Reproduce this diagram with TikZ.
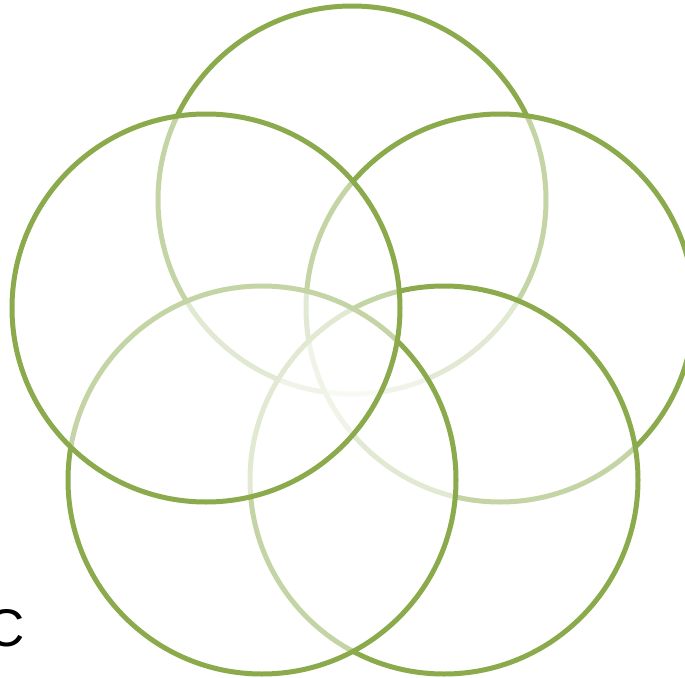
\documentclass[tikz,border=0pt]{standalone}
\usepackage{fontspec}
\setmainfont{Liberation Sans}
\definecolor{ringgreen}{RGB}{138,170,76}
\begin{document}
\begin{tikzpicture}[x=1pt,y=-1pt,
  ring/.style={circle, draw=ringgreen, line width=5pt, fill=white, fill opacity=0.5,
    minimum size=388pt, inner sep=0pt, outer sep=0pt}]
\useasboundingbox (0,0) rectangle (685,677);
\node[ring] (top) at (352,200) {};
\node[ring] (right) at (500,308) {};
\node[ring] (bottomright) at (444,480) {};
\node[ring] (bottomleft) at (262,480) {};
\node[ring] (left) at (206,308) {};
\node[anchor=base east, inner sep=0pt, font=\fontsize{53}{60}\selectfont] (label) at (25,646) {C};
\end{tikzpicture}
\end{document}
